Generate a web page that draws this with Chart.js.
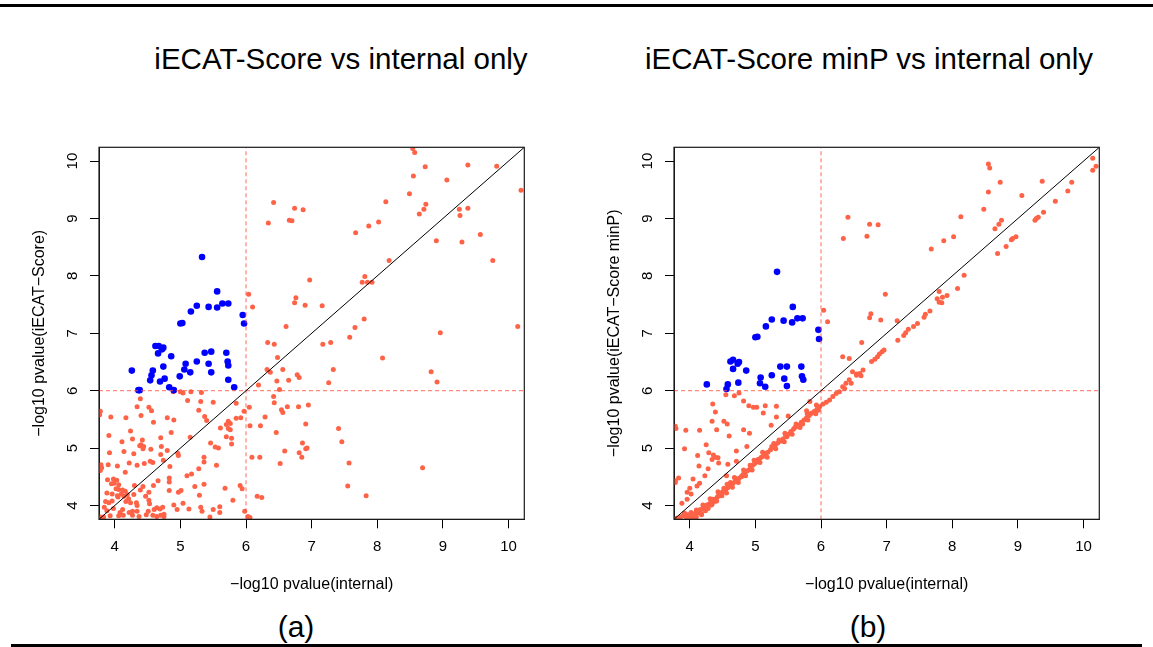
<!DOCTYPE html>
<html>
<head>
<meta charset="utf-8">
<script src="https://cdn.jsdelivr.net/npm/chart.js@4.4.0/dist/chart.umd.min.js"></script>
<style>
  body { margin: 0; background: #fff; }
  #page { position: relative; width: 1153px; height: 647px; overflow: hidden; background: #fff;
          font-family: 'Liberation Sans', Arial, Helvetica, sans-serif; color: #000; }
  .rule { position: absolute; background: #000; }
  .title { position: absolute; top: 44px; width: 560px; text-align: center; font-size: 29.5px;
           line-height: 29px; white-space: nowrap; }
  .cap { position: absolute; top: 612px; width: 200px; text-align: center; font-size: 30px; line-height: 30px; }
  canvas { position: absolute; top: 100px; }
</style>
</head>
<body>
<div id="page">
  <div class="rule" style="left:0;top:4px;width:1153px;height:3px"></div>
  <div class="title" style="left:61px">iECAT-Score vs internal only</div>
  <div class="title" style="left:589px">iECAT-Score minP vs internal only</div>
  <canvas id="chart-a" width="560" height="500" style="left:0"></canvas>
  <canvas id="chart-b" width="560" height="500" style="left:575px"></canvas>
  <div class="cap" style="left:196px">(a)</div>
  <div class="cap" style="left:768px">(b)</div>
  <div class="rule" style="left:11px;top:644px;width:1131px;height:3px"></div>
</div>
<script>
// ---------- datos ----------
const AXIS_MIN = 3.76;
const AXIS_MAX = 10.24;
const TICKS = [4, 5, 6, 7, 8, 9, 10];
const CUTOFF = 6;

const X_TITLE = '\u2212log10 pvalue(internal)';
const Y_TITLE_A = '\u2212log10 pvalue(iECAT\u2212Score)';
const Y_TITLE_B = '\u2212log10 pvalue(iECAT\u2212Score minP)';

// (a) puntos azules: iECAT significativo, internal no
const A_BLUE = [
  [5.33, 8.33], [5.56, 7.73], [5.00, 7.17], [5.03, 7.18], [5.16, 7.38], [5.25, 7.48], [5.43, 7.46],
  [5.56, 7.45], [5.64, 7.52], [5.73, 7.52], [5.95, 7.32], [5.97, 7.17],
  [4.26, 6.35], [4.36, 6.01], [4.38, 6.01], [4.54, 6.18], [4.56, 6.27], [4.58, 6.35], [4.62, 6.78],
  [4.67, 6.78], [4.66, 6.65], [4.74, 6.75], [4.72, 6.72], [4.86, 6.60], [4.74, 6.42], [4.69, 6.16],
  [4.76, 6.21], [4.83, 6.06], [4.90, 6.01], [4.99, 6.25], [5.06, 6.37], [5.08, 6.47], [5.15, 6.32],
  [5.25, 6.51], [5.37, 6.66], [5.47, 6.68], [5.43, 6.47], [5.47, 6.32], [5.70, 6.66], [5.72, 6.51],
  [5.73, 6.44], [5.73, 6.19], [5.82, 6.06]
];

// (a) resto de los puntos
const A_RED = [
  [6.42, 9.28], [6.34, 8.92], [6.66, 8.97], [6.04, 7.68], [6.10, 7.46], [6.61, 7.12],
  [8.54, 10.22], [8.57, 10.15], [8.73, 9.90], [9.38, 9.93], [9.82, 9.91], [8.55, 9.74], [9.06, 9.67],
  [10.19, 9.49], [8.49, 9.43], [8.13, 9.29], [8.74, 9.25], [8.71, 9.16], [8.64, 9.08], [6.74, 9.18],
  [6.87, 9.15], [6.70, 8.96], [9.25, 9.16], [9.38, 9.18], [9.26, 9.05], [7.67, 8.75], [7.87, 8.87],
  [8.02, 8.94], [8.90, 8.61], [9.29, 8.59], [9.57, 8.72], [9.76, 8.27], [8.18, 8.27],
  [7.81, 7.99], [7.77, 7.89], [7.85, 7.89], [7.92, 7.89], [6.97, 7.93], [6.76, 7.62], [6.74, 7.53],
  [6.90, 7.49], [7.16, 7.48], [7.80, 7.25], [7.66, 7.10], [7.58, 6.93], [8.96, 7.01], [10.14, 7.12],
  [7.17, 6.81], [7.29, 6.84], [8.08, 6.57], [7.33, 6.37], [7.26, 6.14], [8.82, 6.33], [8.91, 6.15],
  [6.33, 6.84], [6.43, 6.81], [6.48, 6.58], [6.56, 6.37], [6.47, 6.17], [6.65, 6.18], [6.78, 6.28],
  [6.81, 6.23], [6.51, 6.02], [6.42, 5.90], [6.43, 5.79], [6.54, 5.67], [6.56, 5.62], [6.63, 5.72],
  [6.80, 5.72], [6.95, 5.75], [6.91, 5.42], [6.46, 5.27], [7.41, 5.34], [7.46, 5.11], [6.86, 5.09],
  [6.91, 4.99], [6.93, 5.00], [6.59, 4.95], [6.81, 4.92], [6.85, 4.84], [6.52, 4.73], [7.57, 4.74],
  [7.55, 4.34], [7.83, 4.17], [8.69, 4.66],
  [6.05, 5.71], [6.06, 5.39], [6.19, 6.10], [6.22, 5.39], [6.29, 5.54], [6.32, 6.37], [6.37, 6.32],
  [6.09, 4.84], [6.21, 4.84], [6.17, 4.16], [6.24, 4.14], [6.03, 3.81], [6.06, 3.79],
  [4.89, 5.98], [5.00, 5.98], [5.04, 5.96], [5.16, 5.98], [5.32, 5.97], [4.39, 5.86], [5.11, 5.83],
  [5.31, 5.81], [5.50, 5.80], [5.85, 5.78], [4.52, 5.71], [4.34, 5.72], [4.56, 5.65], [4.40, 5.57],
  [5.28, 5.66], [3.78, 5.64], [3.77, 5.58], [3.94, 5.54], [4.17, 5.53], [4.80, 5.53], [4.90, 5.49],
  [4.59, 5.45], [5.37, 5.55], [5.40, 5.48], [5.73, 5.47], [5.76, 5.43], [5.70, 5.41], [5.85, 5.52],
  [5.92, 5.53], [5.97, 5.64], [5.61, 5.35], [5.73, 5.34], [5.76, 5.32], [5.70, 5.20], [5.78, 5.17],
  [5.78, 5.07], [4.24, 5.30], [3.91, 5.22], [4.11, 5.11], [4.27, 5.16], [4.42, 5.14], [4.40, 5.06],
  [4.44, 5.03], [4.38, 5.04], [4.43, 4.99], [4.70, 5.18], [4.71, 5.03], [4.80, 4.96], [4.55, 4.98],
  [4.86, 5.27], [5.15, 5.19], [5.46, 5.09], [5.53, 5.02], [5.58, 5.00], [4.14, 4.94], [3.92, 4.92],
  [4.96, 4.91], [4.97, 4.87], [4.70, 4.89], [4.29, 4.90], [4.22, 4.74], [4.04, 4.69], [3.90, 4.71],
  [3.79, 4.71], [3.80, 4.66], [3.78, 4.61], [4.45, 4.73], [4.34, 4.70], [4.54, 4.77], [4.58, 4.75],
  [4.74, 4.79], [4.84, 4.68], [5.36, 4.84], [5.36, 4.76], [5.55, 4.70], [5.10, 4.52], [5.17, 4.55],
  [5.28, 4.64], [4.83, 4.48], [4.83, 4.41], [3.98, 4.46], [4.03, 4.44], [3.99, 4.39], [3.95, 4.38],
  [4.06, 4.36], [4.16, 4.58], [3.89, 4.45], [4.06, 4.28], [4.12, 4.27], [4.16, 4.25], [4.10, 4.20],
  [4.19, 4.19], [4.14, 4.16], [4.21, 4.12], [4.30, 4.35], [4.39, 4.27], [4.43, 4.33], [4.29, 4.19],
  [4.59, 4.35], [4.52, 4.23], [4.47, 4.16], [4.33, 4.05], [4.34, 4.00], [4.52, 4.09], [4.53, 4.03],
  [4.60, 3.93], [4.64, 3.96], [4.51, 3.90], [4.73, 3.97], [4.69, 3.94], [4.75, 3.85], [4.34, 3.90],
  [4.27, 3.90], [4.12, 3.93], [4.08, 3.88], [3.98, 3.95], [3.96, 4.08], [3.91, 4.05], [3.86, 4.07],
  [3.84, 3.97], [3.88, 3.91], [3.93, 3.82], [3.83, 3.80], [4.04, 4.17], [4.05, 4.15], [3.96, 4.20],
  [3.88, 4.22], [4.02, 4.29], [4.24, 4.05], [4.17, 4.07], [4.90, 4.01], [5.04, 4.04], [4.95, 3.93],
  [5.13, 3.94], [5.36, 4.37], [5.29, 4.18], [5.50, 3.93], [5.60, 3.98], [5.60, 3.88], [5.45, 3.80],
  [5.68, 4.30], [5.80, 4.09], [5.91, 4.35], [5.94, 4.29], [5.98, 3.90], [5.22, 4.33], [4.97, 4.23],
  [5.01, 4.26], [4.66, 4.43], [4.83, 4.26], [4.48, 3.84], [4.64, 3.81], [4.58, 3.83], [4.75, 3.81],
  [4.70, 3.83], [4.22, 3.88], [4.27, 3.83], [4.37, 3.81], [4.13, 3.83], [4.06, 3.82], [3.78, 3.80],
  [5.31, 3.97], [5.33, 3.90]
];

// (b) puntos azules
const B_BLUE = [
  [5.33, 8.07], [5.57, 7.46], [5.25, 7.24], [5.16, 7.12], [5.43, 7.22], [5.56, 7.19], [5.64, 7.26],
  [5.72, 7.26], [5.00, 6.93], [5.03, 6.94], [5.96, 7.06], [5.97, 6.90],
  [4.26, 6.11], [4.56, 6.03], [4.58, 6.11], [4.62, 6.51], [4.66, 6.54], [4.66, 6.38], [4.73, 6.47],
  [4.75, 6.50], [4.74, 6.14], [4.86, 6.35], [5.07, 6.13], [5.08, 6.23], [5.15, 6.07], [5.25, 6.27],
  [5.38, 6.42], [5.48, 6.42], [5.44, 6.21], [5.48, 6.08], [5.70, 6.42], [5.71, 6.25], [5.73, 6.19]
];

// (b) puntos sobre la diagonal
const B_RED_UPPER = [
  [6.41, 9.02], [6.34, 8.65], [6.04, 7.40], [6.10, 7.20],
  [4.55, 5.93], [4.68, 5.91], [4.75, 5.96], [4.35, 5.77], [4.39, 5.63], [4.34, 5.47], [4.41, 5.32],
  [4.52, 5.47], [4.57, 5.42], [4.60, 5.21], [4.15, 5.31], [3.94, 5.31], [3.78, 5.38], [3.79, 5.34],
  [4.82, 5.82], [4.90, 5.74], [4.97, 5.71], [5.02, 5.71], [5.12, 5.61], [5.15, 5.74], [5.32, 5.73],
  [5.32, 5.54], [5.24, 5.40], [4.82, 5.32], [4.91, 5.26], [5.50, 5.56], [5.78, 5.65], [5.83, 5.81],
  [3.92, 4.99], [4.12, 4.87], [4.25, 5.06], [4.29, 4.92], [4.36, 4.88], [4.39, 4.84], [4.34, 4.80],
  [4.44, 4.74], [4.43, 4.83], [4.14, 4.69], [4.28, 4.64], [4.23, 4.52], [4.58, 4.72], [4.71, 4.95],
  [4.87, 5.03], [4.71, 4.77], [4.56, 4.52], [4.15, 4.39], [4.11, 4.34], [4.00, 4.30], [4.02, 4.20],
  [3.96, 4.23], [3.78, 4.43], [3.83, 4.48], [3.78, 4.40], [3.88, 4.04], [4.05, 4.46], [3.96, 4.11],
  [6.74, 8.90], [6.87, 8.89], [6.70, 8.69], [6.98, 7.68], [6.74, 7.27], [6.76, 7.34], [6.91, 7.23],
  [7.16, 7.22], [7.68, 8.47], [7.87, 8.61], [8.02, 8.68], [8.13, 9.03], [8.48, 9.16], [8.55, 9.95],
  [8.57, 9.88], [8.55, 9.46], [8.73, 9.63], [9.06, 9.40], [9.37, 9.65], [6.62, 6.84], [6.33, 6.59],
  [6.43, 6.56], [8.65, 8.82], [8.71, 8.90], [8.75, 8.97], [10.14, 10.05], [9.82, 9.63], [6.48, 6.33]
];

// (b) banda bajo la diagonal
const B_RED_BAND = [
  [3.80, 3.78], [3.84, 3.77], [3.86, 3.80], [3.90, 3.82], [3.92, 3.87], [3.95, 3.79], [3.97, 3.84],
  [4.00, 3.81], [4.02, 3.88], [4.04, 3.78], [4.06, 3.83], [4.08, 3.86], [4.10, 3.80], [4.12, 3.90],
  [4.14, 3.87], [4.16, 3.93], [4.18, 3.84], [4.20, 3.95], [4.22, 3.97], [4.24, 3.91], [4.26, 4.01],
  [4.28, 3.99], [4.30, 4.03], [4.32, 4.05], [4.34, 4.02], [4.36, 4.09], [4.38, 4.07], [4.40, 4.12],
  [4.42, 4.15], [4.44, 4.18], [4.46, 4.17], [4.48, 4.21], [4.50, 4.24], [4.53, 4.26], [4.55, 4.28],
  [4.58, 4.31], [4.60, 4.34], [4.63, 4.36], [4.66, 4.39], [4.69, 4.42], [4.72, 4.45], [4.75, 4.47],
  [4.78, 4.50], [4.81, 4.54], [4.84, 4.57], [4.87, 4.60], [4.90, 4.62], [4.93, 4.66], [4.96, 4.70],
  [4.99, 4.73], [5.02, 4.76], [5.06, 4.81], [5.09, 4.84], [5.12, 4.86], [5.16, 4.91], [5.19, 4.93],
  [5.23, 4.97], [5.27, 5.01], [5.30, 5.05], [5.34, 5.09], [5.38, 5.12], [5.42, 5.16], [5.46, 5.21],
  [5.50, 5.24], [5.54, 5.29], [5.58, 5.33], [5.62, 5.37], [5.66, 5.40], [5.70, 5.45], [5.74, 5.49],
  [5.78, 5.53], [5.82, 5.57], [5.86, 5.61], [5.90, 5.64], [5.94, 5.68], [5.98, 5.72],
  [4.05, 3.79], [4.15, 3.90], [4.25, 3.97], [4.35, 4.11], [4.45, 4.22], [4.52, 4.30], [4.62, 4.40],
  [4.70, 4.47], [4.80, 4.51], [4.92, 4.70], [5.04, 4.80], [5.14, 4.88], [5.25, 5.03], [5.36, 5.14],
  [5.48, 5.20], [5.60, 5.36], [5.72, 5.42], [5.84, 5.60], [5.96, 5.66],
  [4.08, 3.76], [4.18, 3.86], [4.28, 3.95], [4.33, 4.01], [4.41, 4.08], [4.49, 4.17], [4.56, 4.22],
  [4.65, 4.32], [4.74, 4.40], [4.85, 4.52], [4.95, 4.62], [5.07, 4.75], [5.18, 4.84], [5.31, 4.99],
  [5.44, 5.11], [5.56, 5.24], [5.68, 5.36], [5.80, 5.49], [5.92, 5.60],
  [4.10, 3.92], [4.20, 4.01], [4.31, 4.12], [4.43, 4.24], [4.57, 4.37], [4.68, 4.49], [4.82, 4.62],
  [4.98, 4.79], [5.11, 4.93], [5.28, 5.08], [5.45, 5.26], [5.62, 5.42], [5.79, 5.60], [5.93, 5.75],
  [6.03, 5.77], [6.08, 5.80], [6.13, 5.84], [6.18, 5.90], [6.23, 5.95], [6.28, 5.98], [6.33, 6.07],
  [6.36, 6.04], [6.38, 6.13], [6.43, 6.19], [6.46, 6.13], [6.54, 6.29], [6.54, 6.27], [6.59, 6.30],
  [6.61, 6.26], [6.64, 6.36], [6.77, 6.51], [6.82, 6.55], [6.86, 6.59], [6.89, 6.64], [6.93, 6.68],
  [6.96, 6.71], [7.17, 6.88], [7.26, 6.96], [7.29, 7.01], [7.33, 7.07], [7.41, 7.12], [7.47, 7.17],
  [7.57, 7.28], [7.59, 7.33], [7.66, 7.39], [7.77, 7.60], [7.80, 7.54], [7.84, 7.53], [7.85, 7.63],
  [7.92, 7.66], [7.80, 7.73], [8.08, 7.78], [8.18, 8.01], [8.69, 8.39], [8.82, 8.51], [8.90, 8.63],
  [8.92, 8.65], [8.97, 8.68], [9.26, 8.97], [9.28, 9.00], [9.31, 9.02], [9.39, 9.11], [9.57, 9.30],
  [9.76, 9.48], [10.14, 9.84], [10.19, 9.91]
];

// ---------- estilo ----------
const FONT = "'Liberation Sans', Arial, Helvetica, sans-serif";
const ROJO = '#FF6347';
const AZUL = '#0000FF';

Chart.defaults.font.family = FONT;
Chart.defaults.color = '#000';

function aPuntos(pares) {
  return pares.map(p => ({ x: p[0], y: p[1] }));
}

// caja completa alrededor del área de trazado (como box() en R)
const cajaPlugin = {
  id: 'caja',
  afterDraw(chart) {
    const { ctx, chartArea: a } = chart;
    ctx.save();
    ctx.strokeStyle = '#1a1a1a';
    ctx.lineWidth = 1.2;
    ctx.strokeRect(a.left, a.top, a.right - a.left, a.bottom - a.top);
    ctx.restore();
  }
};

function crearPanel(canvasId, azules, rojos, yTitulo) {
  const linea = (data, color, dash) => ({
    type: 'scatter',
    data,
    showLine: true,
    borderColor: color,
    borderWidth: 1,
    borderDash: dash,
    pointRadius: 0,
    fill: false,
  });

  return new Chart(document.getElementById(canvasId), {
    type: 'scatter',
    data: {
      datasets: [
        linea([{ x: AXIS_MIN, y: AXIS_MIN }, { x: AXIS_MAX, y: AXIS_MAX }], '#000', []),
        linea([{ x: CUTOFF, y: AXIS_MIN }, { x: CUTOFF, y: AXIS_MAX }], 'rgba(255,80,60,0.85)', [4, 3]),
        linea([{ x: AXIS_MIN, y: CUTOFF }, { x: AXIS_MAX, y: CUTOFF }], 'rgba(255,80,60,0.85)', [4, 3]),
        {
          data: aPuntos(azules),
          backgroundColor: AZUL,
          borderWidth: 0,
          pointRadius: 3.3,
        },
        {
          data: aPuntos(rojos),
          backgroundColor: ROJO,
          borderWidth: 0,
          pointRadius: 2.5,
        },
      ],
    },
    options: {
      responsive: false,
      animation: false,
      events: [],
      layout: { padding: { left: 0, right: 35.7, top: 47.3, bottom: 0 } },
      plugins: { legend: { display: false }, tooltip: { enabled: false } },
      scales: {
        x: {
          type: 'linear',
          min: AXIS_MIN,
          max: AXIS_MAX,
          afterBuildTicks: s => { s.ticks = TICKS.map(v => ({ value: v })); },
          afterFit: s => { s.height = 80.7; },
          ticks: { color: '#000', font: { size: 15 }, padding: 10, maxRotation: 0 },
          grid: { drawOnChartArea: false, drawTicks: true, tickLength: 9, color: '#000', lineWidth: 1 },
          border: { display: true, color: '#1a1a1a', width: 1 },
          title: { display: true, text: X_TITLE, color: '#000', font: { size: 16 }, padding: { top: 0, bottom: 6 } },
        },
        y: {
          type: 'linear',
          min: AXIS_MIN,
          max: AXIS_MAX,
          afterBuildTicks: s => { s.ticks = TICKS.map(v => ({ value: v })); },
          afterFit: s => { s.width = 99; },
          ticks: { color: '#000', font: { size: 15 }, padding: 9, minRotation: 90, maxRotation: 90, crossAlign: 'center' },
          grid: { drawOnChartArea: false, drawTicks: true, tickLength: 9, color: '#000', lineWidth: 1 },
          border: { display: true, color: '#1a1a1a', width: 1 },
          title: { display: true, text: yTitulo, color: '#000', font: { size: 16 }, padding: { top: 30, bottom: 0 } },
        },
      },
    },
    plugins: [cajaPlugin],
  });
}

crearPanel('chart-a', A_BLUE, A_RED, Y_TITLE_A);
crearPanel('chart-b', B_BLUE, B_RED_UPPER.concat(B_RED_BAND), Y_TITLE_B);
</script>
</body>
</html>
